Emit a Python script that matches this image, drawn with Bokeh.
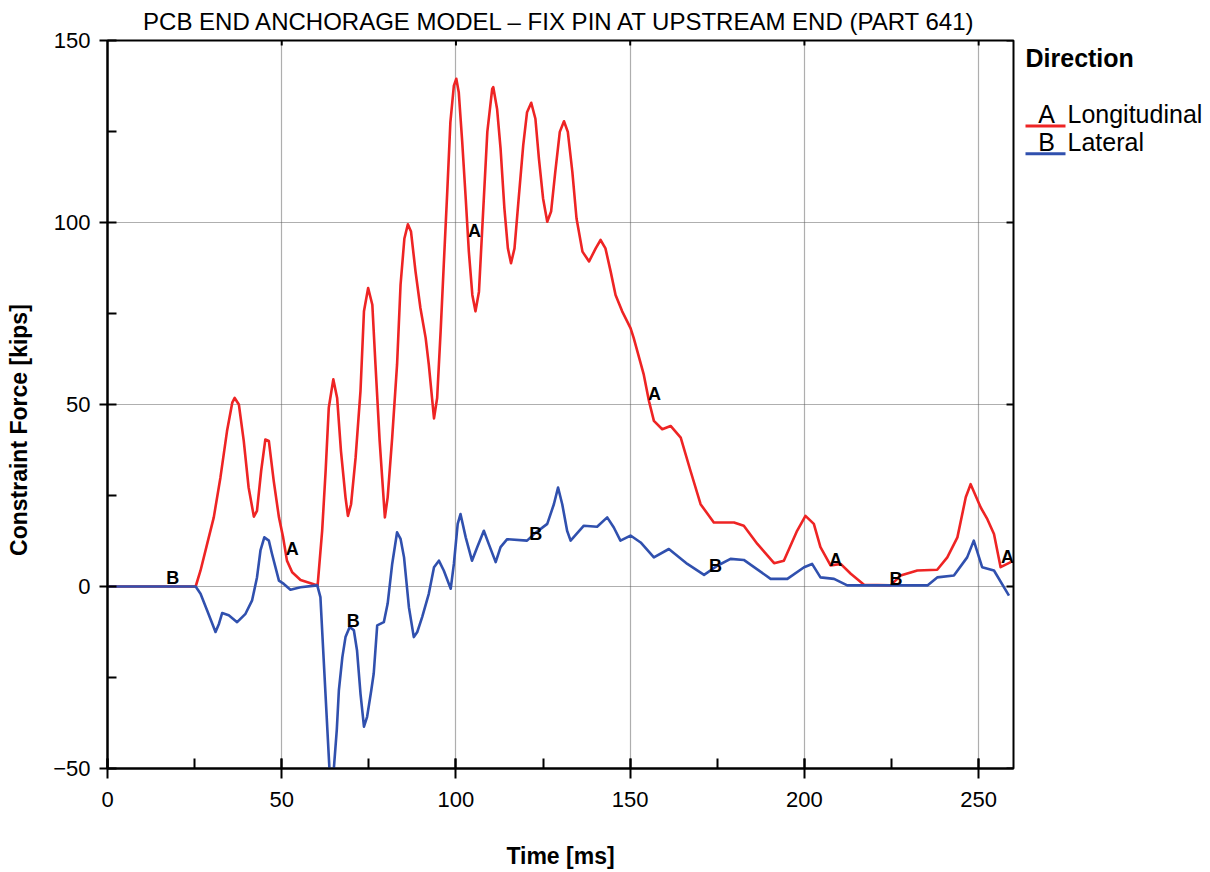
from bokeh.plotting import figure
from bokeh.layouts import row
from bokeh.models import Range1d, SingleIntervalTicker, LabelSet, ColumnDataSource
from bokeh.core.properties import value
from bokeh.embed import file_html
from bokeh.resources import INLINE

title_text = "PCB END ANCHORAGE MODEL \u2013 FIX PIN AT UPSTREAM END (PART 641)"
x_label = "Time [ms]"
y_label = "Constraint Force [kips]"
legend_title = "Direction"
series_letters = ["A", "B"]
series_names = ["Longitudinal", "Lateral"]
x_ticks = [0, 50, 100, 150, 200, 250]
y_ticks = [-50, 0, 50, 100, 150]

# Series A: Longitudinal
long_t = [0, 25.3, 26.7, 28.6, 30.5, 32.4, 34.3, 35.8, 36.5, 37.7, 39.1, 40.5, 42.0, 42.9, 44.1, 45.3,
          46.3, 47.7, 49.2, 50.4, 51.5, 53.0, 55.4, 58.3, 60.3, 61.6, 62.6, 63.5, 64.8, 65.9, 67.0,
          68.3, 69.0, 69.9, 71.2, 72.6, 73.6, 74.8, 76.0, 76.9, 78.1, 79.6, 80.4, 81.7, 83.1, 84.1,
          85.2, 86.2, 87.1, 88.4, 89.8, 91.3, 92.2, 93.7, 94.6, 95.6, 96.5, 97.5, 98.4, 99.4, 100.1,
          100.8, 101.8, 102.8, 103.7, 104.7, 105.6, 106.6, 107.5, 109.0, 110.4, 110.7, 111.8, 112.8,
          113.9, 114.9, 115.8, 116.8, 118.0, 119.3, 120.4, 121.6, 122.8, 123.8, 125.0, 126.2, 127.3,
          128.5, 129.8, 131.0, 132.1, 133.4, 134.6, 136.3, 138.2, 140.1, 141.5, 142.9, 144.4, 145.8,
          147.7, 150.1, 151.0, 153.9, 155.4, 156.8, 159.2, 161.6, 164.5, 167.3, 170.2, 174.0, 179.8,
          182.6, 186.5, 191.3, 194.1, 197.9, 200.3, 202.7, 204.6, 207.5, 210.4, 213.3, 217.1, 224.7,
          227.6, 232.4, 238.1, 241.0, 243.9, 246.3, 247.7, 250.6, 252.5, 254.4, 256.3, 259.2]
long_v = [0, 0, 4.4, 11.7, 19.0, 29.9, 42.7, 50.5, 51.8, 50.0, 40.0, 27.2, 19.2, 20.8, 31.8, 40.4,
          40.0, 29.0, 19.0, 13.5, 7.1, 3.9, 1.8, 0.9, 0.3, 15.3, 31.8, 49.1, 56.9, 51.8, 37.2,
          24.5, 19.4, 22.6, 35.4, 53.7, 75.6, 82.0, 77.4, 61.0, 40.0, 19.0, 24.5, 40.9, 61.0, 82.9,
          95.6, 99.5, 97.5, 86.5, 76.5, 68.3, 61.0, 46.2, 51.8, 70.1, 88.4, 108.4, 127.6, 137.6, 139.5,
          135.8, 122.1, 106.6, 92.0, 80.1, 75.6, 81.0, 97.5, 124.9, 136.7, 137.2, 131.2, 120.3,
          103.9, 92.9, 88.8, 92.9, 106.6, 121.2, 130.3, 132.9, 128.5, 117.6, 106.6, 100.2, 103.0,
          113.9, 124.9, 127.8, 124.9, 113.9, 101.1, 92.0, 89.3, 92.9, 95.2, 92.9, 86.5, 80.1,
          75.6, 71.0, 68.3, 58.2, 50.9, 45.5, 43.2, 44.1, 40.9, 31.8, 22.6, 17.6, 17.6,
          16.7, 11.7, 6.4, 7.1, 15.3, 19.4, 17.2, 10.8, 5.8, 6.2, 3.5, 0.5, 0.3,
          3.0, 4.4, 4.6, 8.0, 13.5, 24.5, 28.1, 21.7, 18.5, 14.4, 5.3, 6.7]

# Series B: Lateral
lat_t = [0, 25.3, 26.7, 28.6, 31.0, 32.0, 32.9, 34.8, 37.2, 39.6, 41.5, 42.9, 43.9, 45.0, 46.3, 47.2,
         49.2, 50.6, 52.5, 55.4, 60.2, 61.1, 62.1, 63.1, 63.8, 64.8, 65.8, 66.4, 67.4, 68.3, 69.5,
         70.7, 71.6, 72.6, 73.6, 74.5, 75.7, 76.4, 77.4, 79.3, 80.4, 81.7, 83.1, 84.1, 85.1, 86.5,
         87.9, 88.9, 90.3, 92.2, 93.7, 95.1, 96.5, 98.5, 99.4, 100.5, 101.3, 102.8, 104.6, 106.1,
         108.0, 109.4, 111.4, 112.8, 114.7, 120.4, 122.4, 126.2, 128.1, 129.3, 130.5, 131.9, 132.9,
         136.7, 140.5, 143.4, 145.3, 147.2, 150.1, 153.0, 156.8, 161.1, 166.4, 171.2, 175.0, 178.8,
         182.6, 190.3, 195.1, 199.9, 202.2, 204.6, 208.5, 212.3, 230.5, 235.3, 238.1, 242.9, 246.7,
         248.6, 251.0, 254.4, 258.7]
lat_v = [0, 0, -2.0, -6.6, -12.5, -10.2, -7.3, -7.9, -9.8, -7.5, -3.8, 2.5, 9.9, 13.5, 12.6, 9.0,
         1.6, 0.7, -0.9, -0.2, 0.3, -2.9, -21.2, -39.4, -52.0, -52.0, -39.4, -28.5, -19.4, -13.9, -11.1,
         -12.0, -17.5, -29.4, -38.5, -35.8, -28.5, -23.9, -10.7, -9.8, -4.7, 6.2, 14.9, 13.1, 8.0, -5.7,
         -13.9, -12.5, -8.4, -2.0, 5.3, 7.1, 4.4, -0.6, 6.2, 17.2, 19.9, 13.5, 7.1, 10.8,
         15.3, 11.7, 6.7, 10.8, 13.0, 12.6, 14.4, 17.2, 22.6, 27.2, 22.6, 15.3, 12.6,
         16.7, 16.4, 19.0, 16.2, 12.6, 14.0, 12.1, 8.0, 10.3, 6.2, 3.2, 5.7, 7.6,
         7.3, 2.1, 2.1, 5.3, 6.2, 2.5, 2.1, 0.3, 0.3, 0.3, 2.5, 3.0, 8.0,
         12.6, 5.3, 4.4, -2.5]

# Curve identification letters
mark_letter = ["B", "A", "B", "A", "B", "A", "B", "A", "B", "A"]
mark_t = [18.7, 53.0, 70.5, 105.3, 122.9, 157.0, 174.5, 209.0, 226.3, 258.3]
mark_v = [2.2, 10.3, -9.5, 97.7, 14.5, 52.9, 5.7, 7.3, 2.1, 8.2]

RED = "#ee2424"
BLUE = "#3050ae"
FONT = "Liberation Sans"

p = figure(width=1020, height=872, x_range=Range1d(0, 260), y_range=Range1d(-50, 150),
           output_backend="svg", toolbar_location=None, title=title_text,
           min_border_left=107, min_border_right=7, min_border_top=39, min_border_bottom=104)

p.title.align = "center"
p.title.text_font = FONT
p.title.text_font_style = "normal"
p.title.text_font_size = "24px"
p.title.text_color = "black"
p.title.standoff = 11
p.title.offset = 0

xt = SingleIntervalTicker(interval=50, num_minor_ticks=2)
yt = SingleIntervalTicker(interval=50, num_minor_ticks=2)
p.xaxis.ticker = xt
p.yaxis.ticker = yt
p.xgrid.ticker = xt
p.ygrid.ticker = yt

for ax in (p.xaxis[0], p.yaxis[0]):
    ax.axis_line_width = 2
    ax.axis_line_color = "black"
    ax.major_tick_line_width = 2
    ax.minor_tick_line_width = 2
    ax.major_tick_line_color = "black"
    ax.minor_tick_line_color = "black"
    ax.major_label_text_font = FONT
    ax.major_label_text_font_size = "22px"
    ax.major_label_text_color = "black"
    ax.axis_label_text_font = FONT
    ax.axis_label_text_font_style = "bold"
    ax.axis_label_text_font_size = "23px"
    ax.axis_label_text_color = "black"

p.xaxis.axis_label = x_label
p.yaxis.axis_label = y_label + "        "
p.xaxis.major_tick_in = 10
p.xaxis.major_tick_out = 10
p.xaxis.minor_tick_in = 10
p.xaxis.minor_tick_out = 0
p.xaxis.major_label_standoff = 13
p.xaxis.axis_label_standoff = 33
p.yaxis.major_tick_in = 0
p.yaxis.major_tick_out = 8
p.yaxis.minor_tick_in = 9
p.yaxis.minor_tick_out = 0
p.yaxis.major_label_standoff = 9
p.yaxis.axis_label_standoff = 18

p.grid.grid_line_color = "#5e5e5e"
p.grid.grid_line_width = 1.2
p.grid.grid_line_dash = "1 1"
p.outline_line_color = "black"
p.outline_line_width = 2
p.background_fill_color = "white"
p.border_fill_color = "white"

# small inward ticks on the top and right borders
p.segment(x0=x_ticks[1:], y0=[150] * 5, x1=x_ticks[1:], y1=[148.6] * 5,
          line_color="black", line_width=2)
p.segment(x0=[260] * 5, y0=y_ticks, x1=[258] * 5, y1=y_ticks,
          line_color="black", line_width=2)

p.line(long_t, long_v, line_color=RED, line_width=2.6, line_join="round")
p.line(lat_t, lat_v, line_color=BLUE, line_width=2.6, line_join="round")

marks = ColumnDataSource(dict(x=mark_t, y=mark_v, text=mark_letter))
p.add_layout(LabelSet(x="x", y="y", text="text", source=marks, text_align="center",
                      text_baseline="middle", text_font=value(FONT), text_font_style="bold",
                      text_font_size="18px", text_color="black"))

# Legend panel (coordinates in page pixels; its frame is aligned with the main plot's frame)
leg = figure(width=182, height=872, x_range=Range1d(1020, 1202), y_range=Range1d(768, 39),
             output_backend="svg", toolbar_location=None, min_border=0, title=None,
             x_axis_location=None, y_axis_location=None)
leg.grid.visible = False
leg.outline_line_color = None
leg.text(x=[1025], y=[57], text=[legend_title], text_font=value(FONT), text_font_style="bold",
         text_font_size="25px", text_baseline="alphabetic", text_align="left", text_color="black")
leg.text(x=[1046, 1046], y=[113, 141], text=series_letters, text_font=value(FONT),
         text_font_size="25px", text_baseline="alphabetic", text_align="center", text_color="black")
leg.text(x=[1067, 1067], y=[113, 141], text=series_names, text_font=value(FONT),
         text_font_size="25px", text_baseline="alphabetic", text_align="left", text_color="black")
leg.segment(x0=[1025, 1025], y0=[124.5, 152.5], x1=[1065, 1065], y1=[124.5, 152.5],
            line_color=[RED, BLUE], line_width=3)

layout = row(p, leg)
open("out.html", "w").write(file_html(layout, INLINE))
